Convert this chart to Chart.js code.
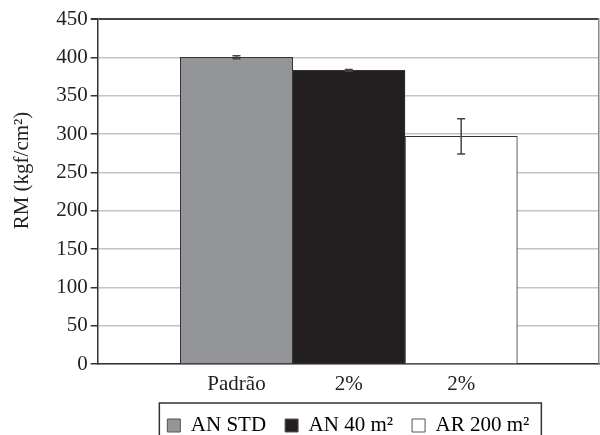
<!DOCTYPE html>
<html>
<head>
<meta charset="utf-8">
<script src="https://cdn.jsdelivr.net/npm/chart.js@4/dist/chart.umd.min.js"></script>
<style>
  html, body { margin: 0; padding: 0; background: #fff; overflow: hidden; }
  #wrap { position: relative; width: 600px; height: 446px; }
</style>
</head>
<body>
<div id="wrap"><canvas id="chart"></canvas></div>
<script>
// Data
const categories = ['Padrão', '2%', '2%'];
const seriesNames = ['AN STD', 'AN 40 m²', 'AR 200 m²'];
const barValues = [400, 383, 297];
const barErrors = [2, 1, 23];
const barColors = ['#939598', '#231f20', '#ffffff'];
const xPositions = [1, 2, 3];
const yTicks = [0, 50, 100, 150, 200, 250, 300, 350, 400, 450];

const serif = "'Liberation Serif', 'DejaVu Serif', serif";

// Error bars, drawn from the y scale
const errorBarPlugin = {
  id: 'errorBars',
  afterDatasetsDraw(chart) {
    const ctx = chart.ctx;
    const y = chart.scales.y;
    ctx.save();
    ctx.strokeStyle = '#444';
    ctx.lineWidth = 1.5;
    chart.data.datasets.forEach((ds, i) => {
      const el = chart.getDatasetMeta(i).data[0];
      if (!el) return;
      const yTop = y.getPixelForValue(barValues[i] + barErrors[i]);
      const yBot = y.getPixelForValue(barValues[i] - barErrors[i]);
      ctx.beginPath();
      ctx.moveTo(el.x, yTop); ctx.lineTo(el.x, yBot);
      ctx.moveTo(el.x - 4, yTop); ctx.lineTo(el.x + 4, yTop);
      ctx.moveTo(el.x - 4, yBot); ctx.lineTo(el.x + 4, yBot);
      ctx.stroke();
    });
    ctx.restore();
  }
};

// Frame around the legend items
const legendBoxPlugin = {
  id: 'legendBox',
  afterDraw(chart) {
    const boxes = chart.legend && chart.legend.legendHitBoxes;
    if (!boxes || !boxes.length) return;
    const first = boxes[0], last = boxes[boxes.length - 1];
    const ctx = chart.ctx;
    ctx.save();
    ctx.strokeStyle = '#333';
    ctx.lineWidth = 1.5;
    ctx.strokeRect(first.left - 8, first.top - 12, (last.left + last.width) - first.left + 20, 60);
    ctx.restore();
  }
};

new Chart(document.getElementById('chart'), {
  type: 'bar',
  data: {
    datasets: seriesNames.map((name, i) => ({
      label: name,
      data: [{ x: xPositions[i], y: barValues[i] }],
      backgroundColor: barColors[i],
      borderColor: '#333',
      borderWidth: 1,
      barPercentage: 1,
      categoryPercentage: 1,
      grouped: false
    }))
  },
  options: {
    responsive: true,
    maintainAspectRatio: false,
    animation: false,
    layout: { padding: { left: 10, right: 1, top: 19, bottom: 0 } },
    scales: {
      x: {
        type: 'linear',
        offset: false,
        min: -0.2356,
        max: 4.227,
        afterBuildTicks: axis => { axis.ticks = xPositions.map(v => ({ value: v })); },
        ticks: {
          autoSkip: false,
          maxRotation: 0,
          padding: 2,
          color: '#222',
          font: { family: serif, size: 21, lineHeight: 0.95 },
          callback: (v) => categories[xPositions.indexOf(v)] || ''
        },
        grid: { display: false },
        border: { display: true, color: '#333', width: 1.5 }
      },
      y: {
        min: 0,
        max: 450,
        afterBuildTicks: axis => { axis.ticks = yTicks.map(v => ({ value: v })); },
        ticks: {
          padding: 3,
          color: '#222',
          font: { family: serif, size: 21 }
        },
        grid: {
          color: c => (c.tick && c.tick.value === 450) ? '#444' : '#c4c4c4',
          lineWidth: c => (c.tick && c.tick.value === 450) ? 2 : 1.5,
          tickColor: '#333',
          tickLength: 7
        },
        border: { display: true, color: '#333', width: 1.5 },
        title: {
          display: true,
          text: '        RM (kgf/cm²)',
          color: '#222',
          font: { family: serif, size: 21 },
          padding: { top: 0, bottom: 18 }
        }
      },
      y2: {
        position: 'right',
        min: 0,
        max: 450,
        ticks: { display: false },
        grid: { display: false, drawTicks: false },
        border: { display: true, color: '#888', width: 1.5 }
      }
    },
    plugins: {
      legend: {
        position: 'bottom',
        fullSize: false,
        labels: {
          boxWidth: 13,
          boxHeight: 13,
          padding: 19,
          color: '#222',
          font: { family: serif, size: 21 },
          generateLabels: chart => seriesNames.map((name, i) => ({
            text: name,
            fillStyle: barColors[i],
            strokeStyle: '#555',
            lineWidth: 1,
            datasetIndex: i
          }))
        }
      },
      tooltip: { enabled: false }
    }
  },
  plugins: [errorBarPlugin, legendBoxPlugin]
});
</script>
</body>
</html>
